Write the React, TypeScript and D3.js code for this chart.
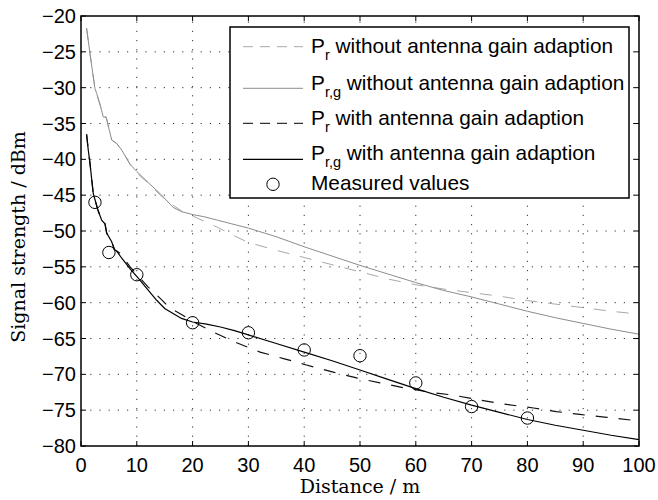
import React from "react";
import * as d3 from "d3";

// Model curves and measurements: received signal strength vs. distance
const prWithoutDist = [1, 1.6, 2.5, 2.8, 3.5, 4.0, 4.5, 5.5, 6.4, 7.3, 8.8, 10, 12, 14.2, 16.5, 18, 20, 22, 24.5, 27, 30, 35, 40, 45, 50, 55, 60, 65, 70, 75, 80, 85, 90, 95, 100];
const prWithout = [-21.7, -25.2, -30.1, -30.8, -32.6, -34.1, -34.1, -37.3, -37.8, -38.7, -40.7, -41.9, -43.3, -45.0, -46.4, -47.2, -47.9, -48.6, -49.5, -50.5, -51.6, -52.7, -53.7, -54.7, -55.7, -56.7, -57.5, -58.1, -58.6, -59.1, -59.7, -60.2, -60.7, -61.2, -61.6];

const prgWithoutDist = [1, 1.6, 2.5, 2.8, 3.5, 4.0, 4.5, 5.5, 6.4, 7.3, 8.8, 10, 12, 14.2, 16.5, 18, 20, 22, 24.5, 27, 30, 35, 40, 45, 50, 55, 60, 65, 70, 75, 80, 85, 90, 95, 100];
const prgWithout = [-21.7, -25.2, -30.1, -30.8, -32.6, -34.1, -34.1, -37.3, -37.8, -38.7, -40.7, -41.7, -43.2, -44.8, -46.7, -47.3, -47.7, -48.0, -48.5, -49.0, -49.6, -50.8, -52.2, -53.5, -54.8, -56.0, -57.2, -58.3, -59.2, -60.2, -61.2, -62.1, -62.9, -63.7, -64.4];

const prWithDist = [1, 1.3, 1.6, 2.2, 2.5, 3.0, 3.7, 4.3, 4.6, 5.5, 6.0, 6.4, 7.0, 8.8, 10.3, 12, 14.2, 16, 17.7, 20, 23.7, 27.9, 32.1, 36.3, 40.4, 45.2, 49.4, 53.6, 58, 62.5, 66.7, 71.5, 76.3, 81.1, 85.2, 89.4, 94.2, 100];
const prWith = [-36.5, -38.7, -40.5, -44.8, -45.6, -47.0, -48.5, -49.0, -50.3, -51.5, -52.6, -52.8, -53.1, -55.0, -56.3, -57.8, -59.4, -60.8, -61.5, -62.6, -64.1, -65.6, -66.9, -67.8, -68.7, -69.7, -70.5, -71.2, -71.9, -72.5, -72.9, -73.6, -74.2, -74.7, -75.2, -75.6, -76.0, -76.5];

const prgWithDist = [1, 1.3, 1.6, 2.2, 2.5, 3.0, 3.7, 4.3, 4.6, 5.5, 6.0, 6.4, 7.3, 8.8, 10.3, 12, 13.6, 15, 16.5, 18, 20, 22.5, 25, 27.5, 30, 35, 40, 45, 50, 55, 60, 65, 70, 75, 80, 85, 90, 95, 100];
const prgWith = [-36.5, -38.7, -40.5, -44.8, -45.6, -47.0, -48.5, -49.0, -50.3, -51.5, -52.6, -52.8, -53.8, -55.3, -56.6, -58.2, -59.7, -60.8, -61.5, -62.2, -62.7, -63.0, -63.4, -63.9, -64.5, -65.7, -66.9, -68.1, -69.4, -70.7, -72.0, -73.2, -74.3, -75.3, -76.3, -77.1, -77.8, -78.5, -79.1];

const measuredDist = [2.5, 5, 10, 20, 30, 40, 50, 60, 70, 80];
const measured = [-46.0, -53.0, -56.1, -62.8, -64.2, -66.6, -67.4, -71.2, -74.5, -76.1];

const xTicks = [0, 10, 20, 30, 40, 50, 60, 70, 80, 90, 100];
const yTicks = [-80, -75, -70, -65, -60, -55, -50, -45, -40, -35, -30, -25, -20];

const legendItems = [
  { main: "P", sub: "r", rest: " without antenna gain adaption", kind: "line", color: "#a8a8a8", dash: "10,7", width: 1 },
  { main: "P", sub: "r,g", rest: " without antenna gain adaption", kind: "line", color: "#8c8c8c", dash: null, width: 1 },
  { main: "P", sub: "r", rest: " with antenna gain adaption", kind: "line", color: "#333", dash: "10,7", width: 1.2 },
  { main: "P", sub: "r,g", rest: " with antenna gain adaption", kind: "line", color: "#000", dash: null, width: 1.2 },
  { main: "Measured values", sub: "", rest: "", kind: "circle", color: "#000", dash: null, width: 1 },
];

const W = 658;
const H = 500;
const left = 81;
const right = 639;
const top = 16;
const bottom = 446;
const FONT = "'Liberation Sans', Arial, Helvetica, sans-serif";
const SERIF = "'DejaVu Serif', 'Liberation Serif', serif";

export default function App() {
  const x = d3.scaleLinear().domain([0, 100]).range([left, right]);
  const y = d3.scaleLinear().domain([-80, -20]).range([bottom, top]);

  const path = (xs: number[], ys: number[]) =>
    d3.line<number>().x((_, i) => x(xs[i])).y((v) => y(v))(ys) || "";

  const series = [
    { d: path(prWithoutDist, prWithout), color: "#a8a8a8", dash: "12,11", width: 1 },
    { d: path(prgWithoutDist, prgWithout), color: "#8c8c8c", dash: null, width: 1 },
    { d: path(prWithDist, prWith), color: "#111", dash: "12,11", width: 1.2 },
    { d: path(prgWithDist, prgWith), color: "#000", dash: null, width: 1.2 },
  ];

  const legendRows = [46.7, 88.3, 123.3, 159.3, 184.3];
  const legendBase = [53, 90, 125, 160, 190];

  return (
    <svg width={W} height={H} style={{ position: "absolute", left: 0, top: 0, background: "#fff" }}>
      <rect x={0} y={0} width={W} height={H} fill="#fff" />
      {/* grid */}
      <g stroke="#333" strokeWidth={1} strokeDasharray="1.2,8">
        {xTicks.slice(1, -1).map((t) => (
          <line key={"gx" + t} x1={x(t)} x2={x(t)} y1={bottom} y2={top} />
        ))}
        {yTicks.slice(1, -1).map((t) => (
          <line key={"gy" + t} x1={left} x2={right} y1={y(t)} y2={y(t)} />
        ))}
      </g>
      {/* tick marks on all four sides */}
      <g stroke="#000" strokeWidth={1}>
        {xTicks.map((t) => (
          <g key={"tx" + t}>
            <line x1={x(t)} x2={x(t)} y1={bottom} y2={bottom - 5} />
            <line x1={x(t)} x2={x(t)} y1={top} y2={top + 5} />
          </g>
        ))}
        {yTicks.map((t) => (
          <g key={"ty" + t}>
            <line x1={left} x2={left + 5} y1={y(t)} y2={y(t)} />
            <line x1={right} x2={right - 5} y1={y(t)} y2={y(t)} />
          </g>
        ))}
      </g>
      {/* curves */}
      <g fill="none">
        {series.map((s, i) => (
          <path key={i} d={s.d} stroke={s.color} strokeWidth={s.width} strokeDasharray={s.dash || undefined} />
        ))}
      </g>
      {/* measurements */}
      <g fill="none" stroke="#000" strokeWidth={1}>
        {measuredDist.map((dv, i) => (
          <circle key={i} cx={x(dv)} cy={y(measured[i])} r={6.2} />
        ))}
      </g>
      {/* axes box */}
      <rect x={left} y={top} width={right - left} height={bottom - top} fill="none" stroke="#000" strokeWidth={1.5} />
      {/* tick labels */}
      <g fontFamily={FONT} fontSize={20} fill="#000">
        {xTicks.map((t) => (
          <text key={"lx" + t} x={x(t)} y={472} textAnchor="middle">
            {t}
          </text>
        ))}
        {yTicks.map((t) => (
          <text key={"ly" + t} x={76} y={y(t) + 7} textAnchor="end">
            {"\u2212" + Math.abs(t)}
          </text>
        ))}
      </g>
      {/* axis labels */}
      <text x={(left + right) / 2} y={493} textAnchor="middle" fontFamily={SERIF} fontSize={19}>
        Distance / m
      </text>
      <text
        transform={`translate(25,237) rotate(-90)`}
        textAnchor="middle"
        fontFamily={SERIF}
        fontSize={19}
      >
        Signal strength / dBm
      </text>
      {/* legend */}
      <g>
        <rect x={230} y={27} width={399} height={171} fill="#fff" stroke="#000" strokeWidth={1.5} />
        {legendItems.map((it, i) => (
          <g key={i}>
            {it.kind === "line" ? (
              <line
                x1={243}
                x2={303}
                y1={legendRows[i]}
                y2={legendRows[i]}
                stroke={it.color}
                strokeWidth={it.width}
                strokeDasharray={it.dash || undefined}
              />
            ) : (
              <circle cx={273} cy={legendRows[i]} r={6.2} fill="none" stroke="#000" strokeWidth={1} />
            )}
            <text x={311} y={legendBase[i]} fontFamily={FONT} fontSize={20.8} fill="#000">
              <tspan>{it.main}</tspan>
              {it.sub ? (
                <>
                  <tspan dy={7} fontSize={14.5}>{it.sub}</tspan>
                  <tspan dy={-7}>{it.rest}</tspan>
                </>
              ) : null}
            </text>
          </g>
        ))}
      </g>
    </svg>
  );
}
